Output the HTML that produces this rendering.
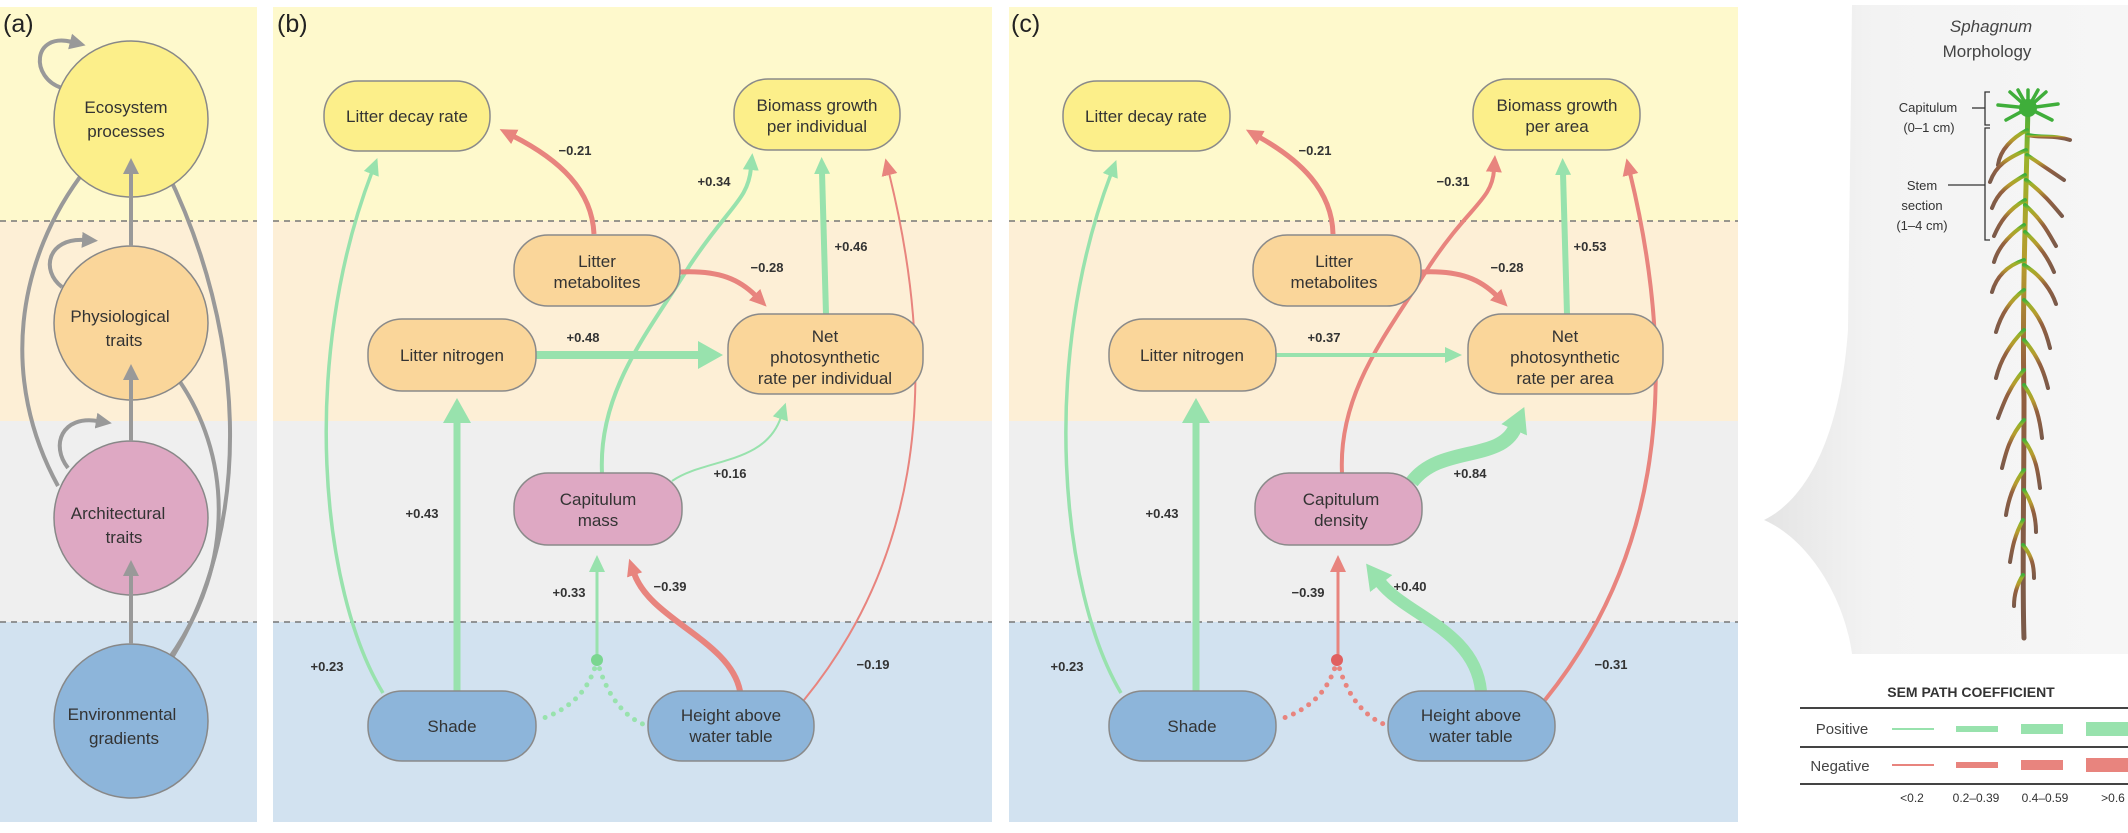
<!DOCTYPE html>
<html><head><meta charset="utf-8"><style>
html,body{margin:0;padding:0;background:#fff}
svg{display:block}
text{font-family:"Liberation Sans",sans-serif;fill:#333}
.n{font-size:17px;text-anchor:middle}
.l{font-size:13px;font-weight:bold;fill:#333;text-anchor:middle}
</style></head><body>
<svg width="2128" height="833" viewBox="0 0 2128 833" xmlns="http://www.w3.org/2000/svg">
<defs>
<marker id="ag" markerUnits="userSpaceOnUse" markerWidth="30" markerHeight="30" refX="2" refY="15" orient="auto" viewBox="0 0 30 30"><path d="M0,7 L17,15 L0,23 z" fill="#98e2ad"/></marker>
<marker id="agb" markerUnits="userSpaceOnUse" markerWidth="40" markerHeight="40" refX="2" refY="20" orient="auto" viewBox="0 0 40 40"><path d="M0,6 L25,20 L0,34 z" fill="#98e2ad"/></marker>
<marker id="ar" markerUnits="userSpaceOnUse" markerWidth="30" markerHeight="30" refX="2" refY="15" orient="auto" viewBox="0 0 30 30"><path d="M0,7 L17,15 L0,23 z" fill="#e8847e"/></marker>
<marker id="ay" markerUnits="userSpaceOnUse" markerWidth="30" markerHeight="30" refX="2" refY="15" orient="auto" viewBox="0 0 30 30"><path d="M0,7 L16,15 L0,23 z" fill="#999"/></marker>
<linearGradient id="pg" x1="0" y1="0" x2="0" y2="1"><stop offset="0" stop-color="#3fae3a"/><stop offset="0.1" stop-color="#9cb22a"/><stop offset="0.3" stop-color="#b79b2e"/><stop offset="0.5" stop-color="#94603f"/><stop offset="1" stop-color="#7a5a4a"/></linearGradient>
<linearGradient id="dg" x1="0" y1="0" x2="1" y2="0"><stop offset="0" stop-color="#e4e4e4"/><stop offset="0.3" stop-color="#f3f3f3"/><stop offset="1" stop-color="#f6f6f6"/></linearGradient>
</defs>

<g>
<rect x="0" y="7" width="257" height="214" fill="#fef9cc"/><rect x="0" y="221" width="257" height="200" fill="#fdefd6"/><rect x="0" y="421" width="257" height="201" fill="#efefef"/><rect x="0" y="622" width="257" height="200" fill="#d2e2f0"/>
<rect x="273" y="7" width="719" height="214" fill="#fef9cc"/><rect x="273" y="221" width="719" height="200" fill="#fdefd6"/><rect x="273" y="421" width="719" height="201" fill="#efefef"/><rect x="273" y="622" width="719" height="200" fill="#d2e2f0"/>
<rect x="1009" y="7" width="729" height="214" fill="#fef9cc"/><rect x="1009" y="221" width="729" height="200" fill="#fdefd6"/><rect x="1009" y="421" width="729" height="201" fill="#efefef"/><rect x="1009" y="622" width="729" height="200" fill="#d2e2f0"/>
</g>
<g stroke="#777" stroke-width="1.6" stroke-dasharray="6 5">
<line x1="0" y1="221" x2="257" y2="221"/><line x1="273" y1="221" x2="992" y2="221"/><line x1="1009" y1="221" x2="1738" y2="221"/>
<line x1="0" y1="622" x2="257" y2="622"/><line x1="273" y1="622" x2="992" y2="622"/><line x1="1009" y1="622" x2="1738" y2="622"/>
</g>

<text x="3" y="32" style="font-size:25px;fill:#222">(a)</text>
<text x="277" y="32" style="font-size:25px;fill:#222">(b)</text>
<text x="1011" y="32" style="font-size:25px;fill:#222">(c)</text>
<text x="1855" y="32" style="font-size:25px;fill:#222">(d)</text>

<g fill="none" stroke="#999" stroke-width="4">
<path d="M62,88 C30,78 32,32 72,42" marker-end="url(#ay)"/>
<path d="M62,287 C40,270 48,238 84,240" marker-end="url(#ay)"/>
<path d="M68,468 C50,445 62,415 98,421" marker-end="url(#ay)"/>
<path d="M58,486 C0,380 15,260 86,169" marker-end="url(#ay)"/>
<path d="M173,656 C255,520 245,330 166,170" marker-end="url(#ay)"/>
<path d="M168,660 C240,560 228,450 178,379" marker-end="url(#ay)"/>
</g>
<g stroke="#888" stroke-width="1.5">
<ellipse cx="131" cy="119" rx="77" ry="78" fill="#fcef8a"/>
<ellipse cx="131" cy="323" rx="77" ry="77" fill="#fad69a"/>
<ellipse cx="131" cy="518" rx="77" ry="77" fill="#dea8c3"/>
<ellipse cx="131" cy="721" rx="77" ry="77" fill="#8db5da"/>
</g>
<g fill="none" stroke="#999" stroke-width="4">
<path d="M131,644 L131,574" marker-end="url(#ay)"/>
<path d="M131,441 L131,378" marker-end="url(#ay)"/>
<path d="M131,246 L131,172" marker-end="url(#ay)"/>
</g>
<text class="n" x="126" y="113">Ecosystem</text><text class="n" x="126" y="137">processes</text>
<text class="n" x="120" y="322">Physiological</text><text class="n" x="124" y="346">traits</text>
<text class="n" x="118" y="519">Architectural</text><text class="n" x="124" y="543">traits</text>
<text class="n" x="122" y="720">Environmental</text><text class="n" x="124" y="744">gradients</text>

<g fill="none" stroke-linecap="butt">
<path d="M383,693 C320,590 300,360 372,172" stroke="#98e2ad" stroke-width="3.5" marker-end="url(#ag)"/>
<path d="M594,234 C592,190 560,160 513,136" stroke="#e8847e" stroke-width="5" marker-end="url(#ar)"/>
<path d="M602,473 C598,390 650,330 690,265 C730,205 748,200 751,168" stroke="#98e2ad" stroke-width="4" marker-end="url(#ag)"/>
<path d="M826,314 L822,172" stroke="#98e2ad" stroke-width="6" marker-end="url(#ag)"/>
<path d="M804,700 C910,570 945,400 889,173" stroke="#e8847e" stroke-width="2" marker-end="url(#ar)"/>
<path d="M680,272 C720,270 740,280 756,296" stroke="#e8847e" stroke-width="5" marker-end="url(#ar)"/>
<path d="M536,355 L700,355" stroke="#98e2ad" stroke-width="8" marker-end="url(#agb)"/>
<path d="M457,691 L457,421" stroke="#98e2ad" stroke-width="7" marker-end="url(#agb)"/>
<path d="M672,481 C705,458 765,465 781,417" stroke="#98e2ad" stroke-width="2" marker-end="url(#ag)"/>
<path d="M597,660 L597,570" stroke="#98e2ad" stroke-width="3" marker-end="url(#ag)"/>
<path d="M740,691 C730,640 650,620 634,573" stroke="#e8847e" stroke-width="6" marker-end="url(#ar)"/>
<path d="M597,660 C590,690 570,710 538,720" stroke="#98e2ad" stroke-width="5" stroke-dasharray="0 9" stroke-linecap="round"/>
<path d="M597,660 C605,690 620,715 645,725" stroke="#98e2ad" stroke-width="5" stroke-dasharray="0 9" stroke-linecap="round"/>
</g>
<circle cx="597" cy="660" r="6" fill="#7ad690"/>

<g fill="none">
<path d="M1121,693 C1060,590 1040,360 1111,174" stroke="#98e2ad" stroke-width="3.5" marker-end="url(#ag)"/>
<path d="M1333,234 C1332,190 1300,160 1259,137" stroke="#e8847e" stroke-width="5" marker-end="url(#ar)"/>
<path d="M1342,473 C1338,390 1390,330 1430,265 C1470,205 1492,200 1494,170" stroke="#e8847e" stroke-width="4" marker-end="url(#ar)"/>
<path d="M1567,314 L1563,173" stroke="#98e2ad" stroke-width="6" marker-end="url(#ag)"/>
<path d="M1545,700 C1650,570 1685,400 1630,173" stroke="#e8847e" stroke-width="4" marker-end="url(#ar)"/>
<path d="M1421,272 C1461,270 1481,280 1497,296" stroke="#e8847e" stroke-width="5" marker-end="url(#ar)"/>
<path d="M1276,355 L1447,355" stroke="#98e2ad" stroke-width="4" marker-end="url(#ag)"/>
<path d="M1196,691 L1196,421" stroke="#98e2ad" stroke-width="7" marker-end="url(#agb)"/>
<path d="M1412,482 C1440,445 1500,462 1515,428" stroke="#98e2ad" stroke-width="14" marker-end="url(#agb)"/>
<path d="M1338,660 L1338,570" stroke="#e8847e" stroke-width="3" marker-end="url(#ar)"/>
<path d="M1481,691 C1475,630 1405,615 1380,582" stroke="#98e2ad" stroke-width="12" marker-end="url(#agb)"/>
<path d="M1337,660 C1330,690 1310,710 1278,720" stroke="#e8847e" stroke-width="5" stroke-dasharray="0 9" stroke-linecap="round"/>
<path d="M1337,660 C1345,690 1360,715 1386,725" stroke="#e8847e" stroke-width="5" stroke-dasharray="0 9" stroke-linecap="round"/>
</g>
<circle cx="1337" cy="660" r="6" fill="#e06060"/>

<g stroke="#8a8a8a" stroke-width="1.5">
<rect x="324" y="81" width="166" height="70" rx="34" fill="#fcef8a"/>
<rect x="734" y="79" width="166" height="71" rx="34" fill="#fcef8a"/>
<rect x="514" y="235" width="166" height="71" rx="34" fill="#fad69a"/>
<rect x="368" y="319" width="168" height="72" rx="34" fill="#fad69a"/>
<rect x="728" y="314" width="195" height="80" rx="34" fill="#fad69a"/>
<rect x="514" y="473" width="168" height="72" rx="34" fill="#dea8c3"/>
<rect x="368" y="691" width="168" height="70" rx="34" fill="#8db5da"/>
<rect x="648" y="691" width="166" height="70" rx="34" fill="#8db5da"/>
<rect x="1063" y="81" width="167" height="70" rx="34" fill="#fcef8a"/>
<rect x="1473" y="79" width="167" height="71" rx="34" fill="#fcef8a"/>
<rect x="1253" y="235" width="168" height="71" rx="34" fill="#fad69a"/>
<rect x="1109" y="319" width="167" height="72" rx="34" fill="#fad69a"/>
<rect x="1468" y="314" width="195" height="80" rx="34" fill="#fad69a"/>
<rect x="1255" y="473" width="167" height="72" rx="34" fill="#dea8c3"/>
<rect x="1109" y="691" width="167" height="70" rx="34" fill="#8db5da"/>
<rect x="1388" y="691" width="167" height="70" rx="34" fill="#8db5da"/>
</g>
<g>
<text class="n" x="407" y="122">Litter decay rate</text>
<text class="n" x="817" y="111">Biomass growth</text><text class="n" x="817" y="132">per individual</text>
<text class="n" x="597" y="267">Litter</text><text class="n" x="597" y="288">metabolites</text>
<text class="n" x="452" y="361">Litter nitrogen</text>
<text class="n" x="825" y="342">Net</text><text class="n" x="825" y="363">photosynthetic</text><text class="n" x="825" y="384">rate per individual</text>
<text class="n" x="598" y="505">Capitulum</text><text class="n" x="598" y="526">mass</text>
<text class="n" x="452" y="732">Shade</text>
<text class="n" x="731" y="721">Height above</text><text class="n" x="731" y="742">water table</text>

<text class="n" x="1146" y="122">Litter decay rate</text>
<text class="n" x="1557" y="111">Biomass growth</text><text class="n" x="1557" y="132">per area</text>
<text class="n" x="1334" y="267">Litter</text><text class="n" x="1334" y="288">metabolites</text>
<text class="n" x="1192" y="361">Litter nitrogen</text>
<text class="n" x="1565" y="342">Net</text><text class="n" x="1565" y="363">photosynthetic</text><text class="n" x="1565" y="384">rate per area</text>
<text class="n" x="1341" y="505">Capitulum</text><text class="n" x="1341" y="526">density</text>
<text class="n" x="1192" y="732">Shade</text>
<text class="n" x="1471" y="721">Height above</text><text class="n" x="1471" y="742">water table</text>
</g>
<g>
<text class="l" x="575" y="155">−0.21</text><text class="l" x="714" y="186">+0.34</text><text class="l" x="851" y="251">+0.46</text>
<text class="l" x="767" y="272">−0.28</text><text class="l" x="583" y="342">+0.48</text><text class="l" x="422" y="518">+0.43</text>
<text class="l" x="730" y="478">+0.16</text><text class="l" x="569" y="597">+0.33</text><text class="l" x="670" y="591">−0.39</text>
<text class="l" x="327" y="671">+0.23</text><text class="l" x="873" y="669">−0.19</text>

<text class="l" x="1315" y="155">−0.21</text><text class="l" x="1453" y="186">−0.31</text><text class="l" x="1590" y="251">+0.53</text>
<text class="l" x="1507" y="272">−0.28</text><text class="l" x="1324" y="342">+0.37</text><text class="l" x="1162" y="518">+0.43</text>
<text class="l" x="1470" y="478">+0.84</text><text class="l" x="1308" y="597">−0.39</text><text class="l" x="1410" y="591">+0.40</text>
<text class="l" x="1067" y="671">+0.23</text><text class="l" x="1611" y="669">−0.31</text>
</g>

<path d="M1852,5 L2128,5 L2128,654 L1852,654 C1845,600 1810,540 1764,520 C1805,500 1840,440 1848,330 Z" fill="url(#dg)"/>
<text x="1991" y="32" style="font-size:17px;font-style:italic;text-anchor:middle;fill:#444">Sphagnum</text>
<text x="1987" y="57" style="font-size:17px;text-anchor:middle;fill:#444">Morphology</text>
<g style="font-size:13px;text-anchor:middle;fill:#333">
<text x="1928" y="112">Capitulum</text><text x="1929" y="132">(0–1 cm)</text>
<text x="1922" y="190">Stem</text><text x="1922" y="210">section</text><text x="1922" y="230">(1–4 cm)</text>
</g>
<g stroke="#333" stroke-width="1.3" fill="none">
<path d="M1990,92 L1985,92 L1985,125 L1990,125"/><line x1="1972" y1="108" x2="1985" y2="108"/>
<path d="M1990,128 L1985,128 L1985,240 L1990,240"/><line x1="1948" y1="185" x2="1985" y2="185"/>
</g>
<g stroke="url(#pg)" fill="none" stroke-linecap="round">
<path d="M2028,105 C2026,200 2022,300 2024,400 C2024,500 2022,580 2024,638" stroke-width="5"/>
<g stroke-width="4">
<path d="M2027,130 C2012,138 2000,150 1998,165"/><path d="M2028,135 C2042,138 2055,135 2070,140"/>
<path d="M2026,150 C2008,158 1996,165 1990,182"/><path d="M2027,155 C2042,165 2052,172 2064,180"/>
<path d="M2025,175 C2008,185 1998,192 1992,208"/><path d="M2026,180 C2042,192 2052,204 2062,216"/>
<path d="M2025,200 C2008,210 2000,222 1994,236"/><path d="M2025,205 C2042,220 2048,232 2056,246"/>
<path d="M2024,225 C2008,236 1998,248 1994,262"/><path d="M2025,232 C2040,246 2048,258 2054,272"/>
<path d="M2024,260 C2006,266 1996,278 1992,292"/><path d="M2024,265 C2042,276 2052,292 2056,304"/>
<path d="M2024,290 C2008,302 2000,318 1996,332"/><path d="M2024,300 C2040,315 2046,332 2050,348"/>
<path d="M2024,330 C2008,346 2000,362 1996,378"/><path d="M2024,340 C2038,356 2044,372 2048,388"/>
<path d="M2024,370 C2010,386 2004,402 1998,418"/><path d="M2024,385 C2036,402 2040,420 2042,438"/>
<path d="M2024,420 C2010,436 2006,452 2002,468"/><path d="M2024,440 C2036,456 2038,472 2040,488"/>
<path d="M2024,470 C2012,486 2008,502 2006,515"/><path d="M2024,490 C2034,506 2036,520 2036,532"/>
<path d="M2023,520 C2014,536 2012,550 2010,562"/><path d="M2023,545 C2032,556 2034,566 2034,578"/>
<path d="M2023,575 C2016,586 2014,596 2014,606"/>
</g>
<g stroke="#3fae3a" stroke-width="3.5">
<path d="M2028,108 L1998,105"/><path d="M2028,108 L2058,104"/><path d="M2028,108 L2010,92"/><path d="M2028,108 L2046,92"/>
<path d="M2028,108 L2028,90"/><path d="M2028,108 L2006,120"/><path d="M2028,108 L2052,120"/><path d="M2028,108 L2018,90"/><path d="M2028,108 L2038,90"/>
</g>
</g>
<circle cx="2028" cy="108" r="9" fill="#3fae3a"/>

<text x="1971" y="697" style="font-size:14px;font-weight:bold;text-anchor:middle;fill:#333">SEM PATH COEFFICIENT</text>
<g stroke="#444" stroke-width="2"><line x1="1800" y1="708" x2="2128" y2="708"/><line x1="1800" y1="747" x2="2128" y2="747"/><line x1="1800" y1="784" x2="2128" y2="784"/></g>
<text x="1842" y="734" style="font-size:15px;text-anchor:middle;fill:#444">Positive</text>
<text x="1840" y="771" style="font-size:15px;text-anchor:middle;fill:#444">Negative</text>
<g fill="#98e2ad"><rect x="1892" y="728" width="42" height="2"/><rect x="1956" y="726" width="42" height="6"/><rect x="2021" y="724" width="42" height="10"/><rect x="2086" y="722" width="42" height="14"/></g>
<g fill="#e8847e"><rect x="1892" y="764" width="42" height="2"/><rect x="1956" y="762" width="42" height="6"/><rect x="2021" y="760" width="42" height="10"/><rect x="2086" y="758" width="42" height="14"/></g>
<g style="font-size:12px;text-anchor:middle;fill:#444"><text x="1912" y="802">&lt;0.2</text><text x="1976" y="802">0.2–0.39</text><text x="2045" y="802">0.4–0.59</text><text x="2113" y="802">&gt;0.6</text></g>
</svg>
</body></html>
